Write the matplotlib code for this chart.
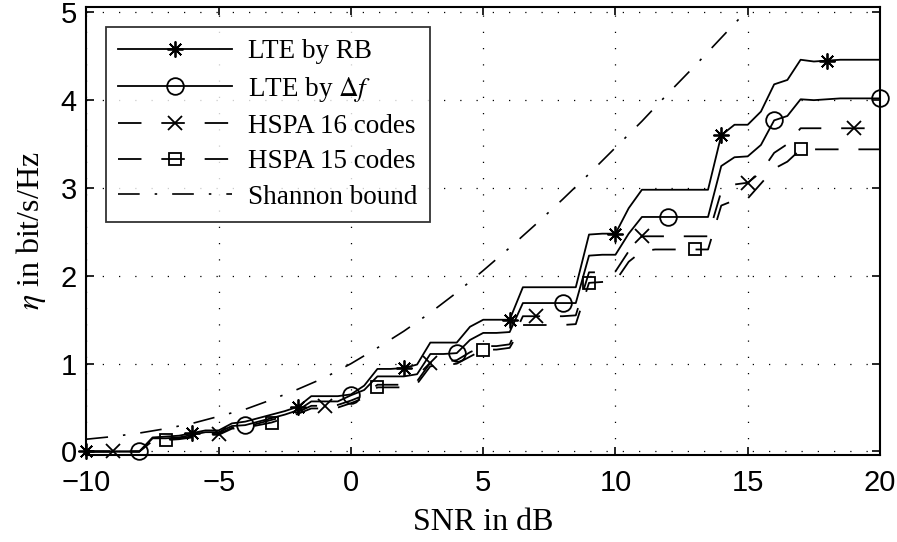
import numpy as np
import matplotlib
matplotlib.use('Agg')
import matplotlib.pyplot as plt

plt.rcParams['mathtext.fontset'] = 'stix'

# spectral efficiency vs SNR, sampled every 0.5 dB from -10 to 20
snr = np.arange(-10, 20.5, 0.5)

lte_rb = [0, 0, 0, 0, 0, 0.16, 0.17, 0.18, 0.21, 0.24, 0.24, 0.32, 0.34, 0.38, 0.42, 0.46,
          0.51, 0.63, 0.63, 0.63, 0.65, 0.75, 0.94, 0.94, 0.95, 0.99, 1.24, 1.24, 1.24, 1.42,
          1.50, 1.50, 1.50, 1.87, 1.87, 1.87, 1.87, 1.87, 2.47, 2.48, 2.48, 2.77, 2.98, 2.98,
          2.98, 2.98, 2.98, 2.98, 3.60, 3.72, 3.72, 3.87, 4.18, 4.23, 4.46, 4.44, 4.45, 4.46,
          4.46, 4.46, 4.46]

lte_df = [0, 0, 0, 0, 0, 0.15, 0.15, 0.16, 0.19, 0.22, 0.22, 0.29, 0.30, 0.34, 0.38, 0.42,
          0.47, 0.57, 0.57, 0.57, 0.64, 0.70, 0.855, 0.855, 0.855, 0.88, 1.11, 1.11, 1.12, 1.27,
          1.35, 1.35, 1.36, 1.69, 1.69, 1.69, 1.69, 1.69, 2.23, 2.24, 2.24, 2.48, 2.67, 2.67,
          2.67, 2.67, 2.67, 2.67, 3.25, 3.35, 3.36, 3.49, 3.77, 3.82, 4.01, 4.00, 4.01, 4.02,
          4.02, 4.02, 4.02]

hspa16 = [0, 0, 0, 0, 0, 0.13, 0.14, 0.15, 0.17, 0.20, 0.20, 0.27, 0.28, 0.32, 0.36, 0.40,
          0.45, 0.52, 0.52, 0.53, 0.58, 0.64, 0.76, 0.76, 0.76, 0.80, 1.01, 1.02, 1.04, 1.13,
          1.20, 1.20, 1.22, 1.54, 1.54, 1.54, 1.54, 1.55, 2.04, 2.04, 2.05, 2.28, 2.45, 2.45,
          2.45, 2.45, 2.45, 2.45, 2.96, 3.04, 3.06, 3.18, 3.40, 3.50, 3.68, 3.68, 3.68, 3.68,
          3.68, 3.68, 3.68]

hspa15 = [0, 0, 0, 0, 0, 0.12, 0.13, 0.14, 0.16, 0.19, 0.19, 0.26, 0.27, 0.30, 0.33, 0.38,
          0.43, 0.49, 0.49, 0.50, 0.55, 0.61, 0.73, 0.73, 0.73, 0.77, 0.97, 0.98, 1.00, 1.08,
          1.16, 1.16, 1.18, 1.44, 1.44, 1.44, 1.44, 1.45, 1.92, 1.93, 1.94, 2.16, 2.28, 2.30,
          2.30, 2.30, 2.30, 2.30, 2.80, 2.86, 2.88, 3.05, 3.22, 3.30, 3.44, 3.44, 3.44, 3.44,
          3.44, 3.44, 3.44]

# Shannon bound, 1 dB steps
snr_sh = np.arange(-10, 16, 1)
shannon = [0.14, 0.17, 0.21, 0.26, 0.32, 0.40, 0.48, 0.59, 0.71, 0.84, 1.00, 1.18, 1.37,
           1.58, 1.81, 2.06, 2.32, 2.59, 2.87, 3.16, 3.46, 3.76, 4.08, 4.39, 4.71, 5.03]

fig = plt.figure(figsize=(8.97, 5.42), dpi=100)
ax = fig.add_axes([0.0964, 0.1605, 0.8846, 0.8265])

dash = (0, (13, 11))
mk = dict(color='black', lw=1.3, markerfacecolor='none', markeredgecolor='black',
          markeredgewidth=1.3, clip_on=False)

ax.plot(snr, lte_rb, '-', marker=(8, 2, 0), markersize=11.5, markevery=(0, 8),
        label='LTE by RB', **mk)
ax.plot(snr, lte_df, '-', marker='o', markersize=12, markevery=(4, 8),
        label=r'LTE by $\Delta f$', **mk)
ax.plot(snr, hspa16, linestyle=dash, marker='x', markersize=9.5, markevery=(2, 8),
        label='HSPA 16 codes', **mk)
ax.plot(snr, hspa15, linestyle=dash, marker='s', markersize=9, markevery=(6, 8),
        label='HSPA 15 codes', **mk)
ax.plot(snr_sh, shannon, color='black', lw=1.2, linestyle=(0, (13, 9, 1.5, 9)),
        label='Shannon bound')

ax.set_xlim(-10, 20)
ax.set_ylim(-0.04, 5.06)
ax.set_xticks([-10, -5, 0, 5, 10, 15, 20])
ax.set_yticks([0, 1, 2, 3, 4, 5])
ax.set_xticklabels(['\u221210', '\u22125', '0', '5', '10', '15', '20'])
ax.grid(True, color='black', lw=0.9, linestyle=(0, (1, 12)))

for s in ax.spines.values():
    s.set_linewidth(1.5)
ax.tick_params(direction='in', length=6, width=1.2, top=True, right=True,
               labelsize=21, pad=10)
ax.tick_params(axis='y', pad=7)
for lab in ax.get_xticklabels() + ax.get_yticklabels():
    lab.set_fontfamily('Liberation Sans')

ax.set_xlabel('SNR in dB', family='Liberation Serif', fontsize=23, labelpad=8)
ax.set_ylabel(r'$\eta$ in bit/s/Hz', family='Liberation Serif', fontsize=23, labelpad=9)

leg = ax.legend(loc='upper left', bbox_to_anchor=(0.0246, 0.955),
                prop={'family': 'Liberation Serif', 'size': 19.5},
                frameon=True, fancybox=False, handlelength=4.2, handletextpad=0.6,
                labelspacing=0.38, borderpad=0.45, borderaxespad=0)
leg.get_frame().set_edgecolor('black')
leg.get_frame().set_linewidth(1.3)

fig.savefig('out.png', dpi=100)
